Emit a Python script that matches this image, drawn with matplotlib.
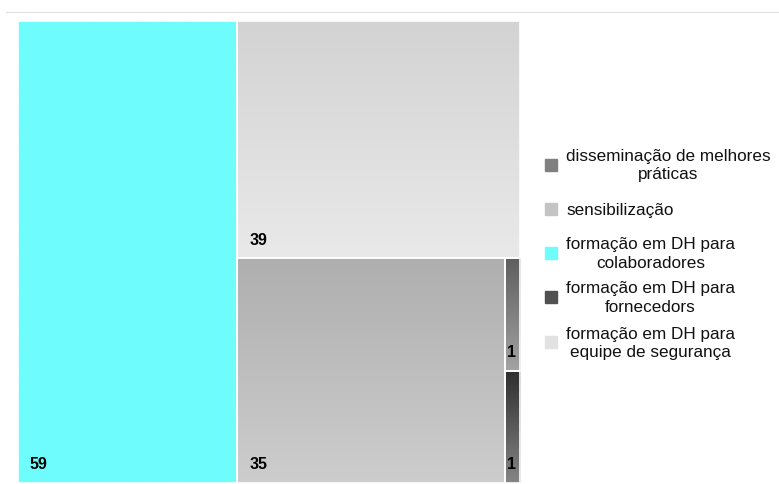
import matplotlib
matplotlib.use("Agg")
import matplotlib.pyplot as plt
import numpy as np

plt.rcParams['font.family'] = ['Liberation Sans', 'DejaVu Sans']

# Data
labels = ["formação em DH para\ncolaboradores",
          "formação em DH para\nequipe de segurança",
          "sensibilização",
          "disseminação de melhores\npráticas",
          "formação em DH para\nfornecedors"]
values = [59, 39, 35, 1, 1]
# gradient colors (top, bottom)
grad_top = ["#6ffcfc", "#d3d3d3", "#afafaf", "#5e5e5e", "#2e2e2e"]
grad_bot = ["#6ffcfc", "#e9e9e9", "#cdcdcd", "#a3a3a3", "#858585"]
legend_order = [3, 2, 0, 4, 1]
legend_colors = ["#808080", "#c4c4c4", "#6ffcfc", "#505050", "#e2e2e2"]

W, H = 779, 485
fig = plt.figure(figsize=(W / 100, H / 100), dpi=100)
fig.patch.set_facecolor("white")

# top separator line
fig.add_artist(plt.Line2D([6 / W, 1], [1 - 12.5 / H, 1 - 12.5 / H], color="#e0e0e0", lw=0.8))

ax = fig.add_axes([18 / W, 1 / H, 502 / W, 462 / H])
ax.set_xlim(0, 1)
ax.set_ylim(0, 1)
ax.axis("off")


def layout(idx, x, y, w, h, horizontal):
    """Binary slice layout: first item vs rest, alternating direction."""
    rects = {}
    if len(idx) == 1:
        rects[idx[0]] = (x, y, w, h)
        return rects
    total = sum(values[i] for i in idx)
    frac = values[idx[0]] / total
    if horizontal:
        rects[idx[0]] = (x, y, w * frac, h)
        rects.update(layout(idx[1:], x + w * frac, y, w * (1 - frac), h, False))
    else:
        rects[idx[0]] = (x, y + h * (1 - frac), w, h * frac)
        rects.update(layout(idx[1:], x, y, w, h * (1 - frac), True))
    return rects


rects = layout(list(range(len(values))), 0, 0, 1, 1, True)


def hex2rgb(c):
    c = c.lstrip("#")
    return np.array([int(c[i:i + 2], 16) / 255 for i in (0, 2, 4)])


for i, (x, y, w, h) in rects.items():
    t = hex2rgb(grad_top[i])
    b = hex2rgb(grad_bot[i])
    n = 64
    s = np.linspace(0, 1, n)[:, None]
    img = (t[None, :] * (1 - s) + b[None, :] * s)[:, None, :]
    ax.imshow(img, extent=(x, x + w, y, y + h), aspect="auto", origin="upper",
              interpolation="bilinear", zorder=1)
    ax.add_patch(plt.Rectangle((x, y), w, h, fill=False, ec="white", lw=1.2,
                               zorder=2, clip_on=False))
    dx = 12 / 502 if w > 0.1 else 2.5 / 502
    ax.text(x + dx, y + 19 / 462, str(values[i]), fontsize=11.5, fontweight="bold",
            va="center", ha="left", color="black", zorder=3)

ax.set_xlim(0, 1)
ax.set_ylim(0, 1)

# legend
entries_y = [166, 210, 254, 298, 343]
for k, i in enumerate(legend_order):
    yc = 1 - entries_y[k] / H
    fig.add_artist(plt.Rectangle((545 / W, yc - 6 / H), 12 / W, 12 / H,
                                 transform=fig.transFigure, color=legend_colors[k]))
    fig.text(566 / W, yc, labels[i], ha="left", va="center",
             fontsize=12.3, color="#111111", linespacing=1.25, multialignment="center")

fig.savefig("out.png", dpi=100)
